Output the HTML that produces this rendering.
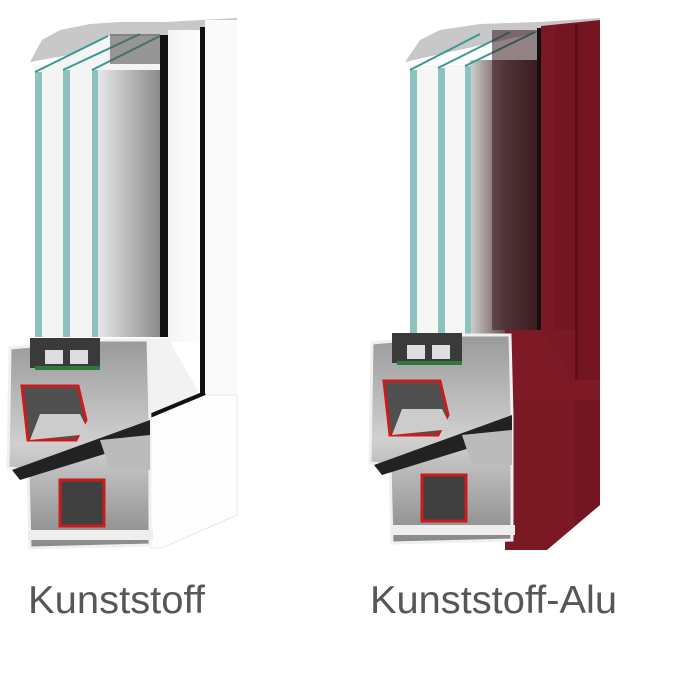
<!DOCTYPE html>
<html><head><meta charset="utf-8"><style>
html,body{margin:0;padding:0;background:#fff;}
svg{display:block}
text{font-family:"Liberation Sans",sans-serif;fill:#575757;font-size:39px}
</style></head><body>
<svg width="683" height="683" viewBox="0 0 683 683" xmlns="http://www.w3.org/2000/svg">
<defs>
<linearGradient id="gl" x1="0" x2="1"><stop offset="0" stop-color="#e8e8e8"/><stop offset="1" stop-color="#8a8a8a"/></linearGradient>
<linearGradient id="glr" x1="0" x2="1"><stop offset="0" stop-color="#d0d0d0"/><stop offset="0.5" stop-color="#6a5050"/><stop offset="1" stop-color="#3a1a1e"/></linearGradient>
<linearGradient id="wf" x1="0" x2="1"><stop offset="0" stop-color="#f4f4f4"/><stop offset="1" stop-color="#fdfdfd"/></linearGradient>
<linearGradient id="cs" x1="0" y1="0" x2="0" y2="1"><stop offset="0" stop-color="#9a9a9a"/><stop offset="0.5" stop-color="#d0d0d0"/><stop offset="1" stop-color="#888"/></linearGradient>
<g id="section">
  <path d="M10 348 L100 340 L148 340 L150 420 L150 545 L30 548 L28 470 L8 468 Z" fill="url(#cs)" stroke="#f0f0f0" stroke-width="3"/>
  <rect x="30" y="338" width="70" height="30" fill="#3a3a3a"/>
  <rect x="45" y="350" width="18" height="14" fill="#ddd"/>
  <rect x="70" y="350" width="18" height="14" fill="#ddd"/>
  <rect x="35" y="366" width="65" height="4" fill="#2f7a3a"/>
  <path d="M22 386 L78 386 L86 420 L76 440 L28 440 Z" fill="#505050" stroke="#cc1b1b" stroke-width="3"/>
  <path d="M40 414 L80 414 L90 434 L30 440 Z" fill="#ccc"/>
  <path d="M12 470 L150 420 L150 440 L20 480 Z" fill="#222"/>
  <rect x="60" y="480" width="44" height="46" fill="#404040" stroke="#cc1b1b" stroke-width="3"/>
  <path d="M100 440 L150 435 L150 470 L110 470 Z" fill="#bbb"/>
  <rect x="28" y="530" width="125" height="10" fill="#eee"/>
</g>
</defs>

<!-- LEFT WINDOW -->
<path d="M30 62 L42 40 L60 30 L90 24 L120 22 L165 22 L237 18 L237 32 L165 38 Z" fill="#c8c8c8"/>
<rect x="35" y="65" width="130" height="272" fill="#f6f6f6"/>
<path d="M35 72 L108 36 L160 36 L160 337 L35 337 Z" fill="#f4f4f4"/>
<rect x="98" y="70" width="62" height="267" fill="url(#gl)"/>
<rect x="35" y="72" width="7" height="265" fill="#8cc2c0"/>
<rect x="63" y="70" width="7" height="267" fill="#8cc2c0"/>
<rect x="92" y="70" width="6" height="267" fill="#8cc2c0"/>
<path d="M35 72 L108 36 M63 70 L140 34 M92 70 L160 36" stroke="#3a9a90" stroke-width="2"/>
<rect x="110" y="34" width="50" height="30" fill="#555" opacity="0.6"/>
<rect x="160" y="35" width="8" height="302" fill="#111"/>
<rect x="168" y="30" width="32" height="312" fill="url(#wf)"/>
<rect x="200" y="27" width="5" height="370" fill="#111"/>
<rect x="205" y="20" width="32" height="420" fill="#fafafa"/>
<path d="M100 340 L168 338 L200 395 L150 418 Z" fill="#f2f2f2"/>
<path d="M150 418 L200 395 L237 395 L237 515 L162 548 L150 548 Z" fill="#fdfdfd" stroke="#e8e8e8"/>
<path d="M140 420 L205 393" stroke="#111" stroke-width="4"/>
<use href="#section"/>

<!-- RIGHT WINDOW -->
<path d="M405 62 L420 40 L440 30 L480 24 L540 22 L600 18 L600 28 L540 32 Z" fill="#c8c8c8"/>
<rect x="410" y="65" width="130" height="272" fill="#f6f6f6"/>
<rect x="470" y="60" width="70" height="277" fill="url(#glr)"/>
<rect x="410" y="70" width="7" height="267" fill="#8cc2c0"/>
<rect x="438" y="68" width="7" height="269" fill="#8cc2c0"/>
<rect x="465" y="66" width="6" height="271" fill="#8cc2c0"/>
<path d="M410 70 L480 34 M438 68 L510 32 M465 66 L535 32" stroke="#3a9a90" stroke-width="2"/>
<rect x="492" y="30" width="46" height="300" fill="#3a1c20" opacity="0.55"/>
<rect x="537" y="28" width="4" height="302" fill="#111"/>
<path d="M541 26 L600 20 L600 505 L547 550 L505 550 L505 330 L541 330 Z" fill="#7a1824"/>
<path d="M555 26 L600 22 L600 505 L575 525 L575 330 L555 330 Z" fill="#741622"/>
<path d="M505 330 L541 330 L575 380 L600 380 L600 400 L505 400 Z" fill="#7e1926"/>
<path d="M575 24 L578 24 L578 380 L575 380 Z" fill="#5e1019"/>
<use href="#section" transform="translate(362 -5)"/>

<text x="28" y="613" textLength="177" lengthAdjust="spacingAndGlyphs">Kunststoff</text>
<text x="370" y="613" textLength="247" lengthAdjust="spacingAndGlyphs">Kunststoff-Alu</text>
</svg>
</body></html>
